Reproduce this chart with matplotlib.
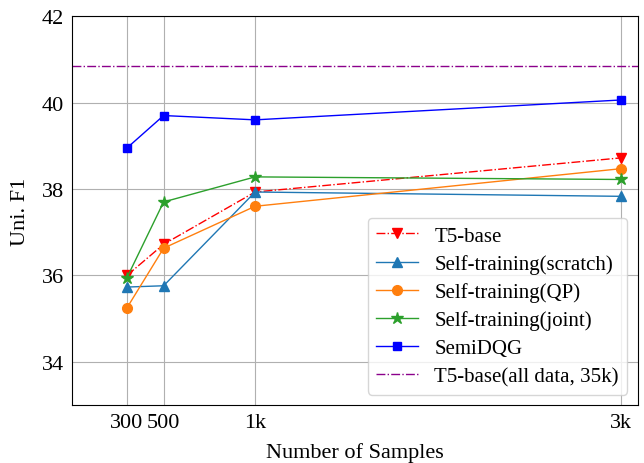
import numpy as np
from matplotlib import pyplot as plt

plt.rcParams['font.family'] = ['Liberation Serif', 'DejaVu Serif']
plt.rcParams['mathtext.fontset'] = 'stix'

samples = [300, 500, 1000, 3000]
tickLabels = ['300', '500', '1k', '3k']

t5Base = [36.0, 36.72, 37.93, 38.72]
selfScratch = [35.73, 35.76, 37.93, 37.83]
selfQP = [35.25, 36.63, 37.6, 38.47]
selfJoint = [35.95, 37.7, 38.28, 38.22]
semiDQG = [38.95, 39.7, 39.6, 40.06]
t5AllData = 40.85

fig, ax = plt.subplots(figsize=(6.44, 4.64), dpi=100)

ax.plot(samples, t5Base, linestyle='-.', marker='v', color='red', lw=1, ms=7, label='T5-base')
ax.plot(samples, selfScratch, marker='^', color='tab:blue', lw=1, ms=7, label='Self-training(scratch)')
ax.plot(samples, selfQP, marker='o', color='tab:orange', lw=1, ms=7, label='Self-training(QP)')
ax.plot(samples, selfJoint, marker='*', color='tab:green', lw=1, ms=9, label='Self-training(joint)')
ax.plot(samples, semiDQG, marker='s', color='blue', lw=1, ms=6, label='SemiDQG')
ax.axhline(t5AllData, linestyle='-.', color='darkmagenta', lw=1, label='T5-base(all data, 35k)')

ax.set_xlim(0, 3090)
ax.set_ylim(33, 42)
ax.set_xticks(samples)
ax.set_xticklabels(tickLabels)
ax.set_yticks([34, 36, 38, 40, 42])
ax.tick_params(length=0, labelsize=16, pad=6)
ax.grid(True, color='#b0b0b0', lw=0.8)
ax.set_axisbelow(True)
ax.set_xlabel('Number of Samples', fontsize=16, labelpad=7)
ax.set_ylabel('Uni. F1', fontsize=16, labelpad=8)
ax.legend(loc='lower right', fontsize=15, handlelength=2.0, labelspacing=0.4)

plt.subplots_adjust(left=0.112, right=0.99, top=0.963, bottom=0.125)
plt.savefig('out.png')
